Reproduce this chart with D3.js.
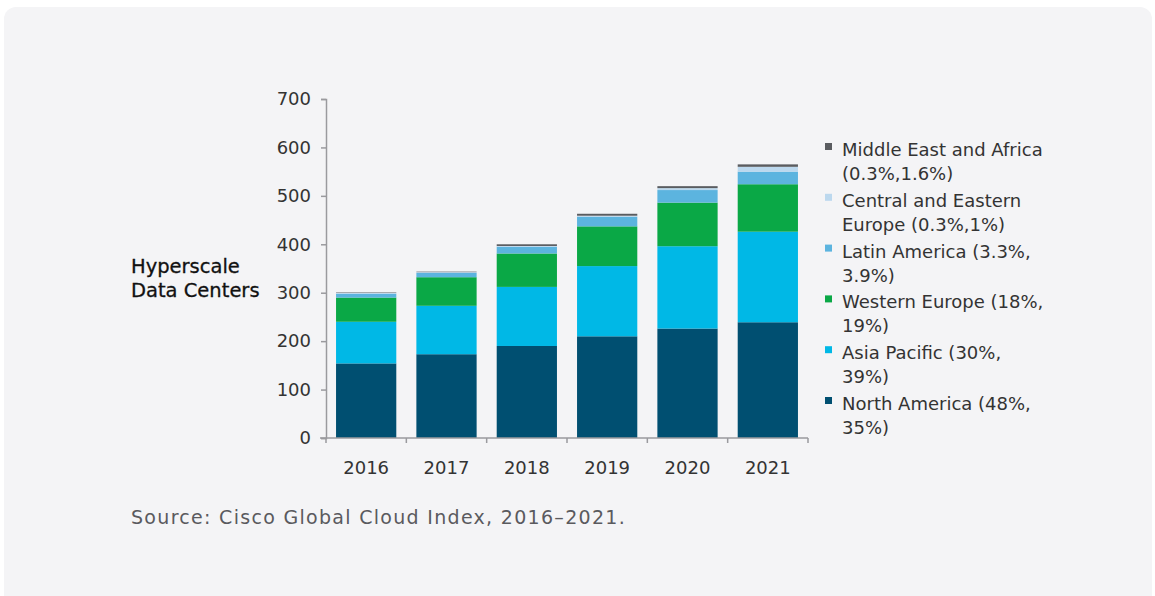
<!DOCTYPE html>
<html>
<head>
<meta charset="utf-8">
<script src="https://cdn.jsdelivr.net/npm/d3@7"></script>
<style>
  body { margin: 0; background: #ffffff; }
  svg { display: block; font-family: "DejaVu Sans", sans-serif; }
</style>
</head>
<body>
<script>
// data
var years = ["2016", "2017", "2018", "2019", "2020", "2021"];
var northAmerica = [154, 173, 190, 210, 226, 239];
var asiaPacific = [86, 100, 122, 145, 170, 187];
var westernEurope = [50, 59, 69, 82, 90, 98];
var latinAmerica = [8, 9, 14, 20, 26, 26];
var centralEastEurope = [1.5, 1.5, 1.5, 2, 4, 10];
var middleEastAfrica = [1, 1, 3.5, 4, 4, 5];
var yTicks = [0, 100, 200, 300, 400, 500, 600, 700];

var seriesNames = ["North America", "Asia Pacific", "Western Europe", "Latin America",
                   "Central and Eastern Europe", "Middle East and Africa"];
var seriesValues = [northAmerica, asiaPacific, westernEurope, latinAmerica, centralEastEurope, middleEastAfrica];
var seriesColors = ["#004f71", "#00b8e6", "#0aa846", "#5cb4df", "#bcd8ee", "#5a5c60"];
// legend labels, top to bottom
var legendLines = [
  ["Middle East and Africa", "(0.3%,1.6%)"],
  ["Central and Eastern", "Europe (0.3%,1%)"],
  ["Latin America (3.3%,", "3.9%)"],
  ["Western Europe (18%,", "19%)"],
  ["Asia Pacific (30%,", "39%)"],
  ["North America (48%,", "35%)"]
];

var W = 1155, H = 596;
var svg = d3.select("body").append("svg").attr("width", W).attr("height", H);

// card background
svg.append("rect").attr("x", 4).attr("y", 7).attr("width", 1148).attr("height", 620)
   .attr("rx", 12).attr("fill", "#f4f4f6");

var x = d3.scaleBand().domain(years).range([326, 808]).paddingInner(0.25).paddingOuter(0.125);
var y = d3.scaleLinear().domain([0, 700]).range([438, 99]);

// build table for the stack
var table = years.map(function(yr, i) {
  var row = { year: yr };
  seriesNames.forEach(function(n, k) { row[n] = seriesValues[k][i]; });
  return row;
});
var stacked = d3.stack().keys(seriesNames)(table);

svg.append("g").selectAll("g").data(stacked).enter().append("g")
   .attr("fill", function(d, k) { return seriesColors[k]; })
   .selectAll("rect").data(function(d) { return d; }).enter().append("rect")
   .attr("x", function(d) { return x(d.data.year); })
   .attr("width", x.bandwidth())
   .attr("y", function(d) { return y(d[1]); })
   .attr("height", function(d) { return y(d[0]) - y(d[1]); });

// y axis
var yAxis = svg.append("g").attr("transform", "translate(326,0)")
   .call(d3.axisLeft(y).tickValues(yTicks).tickSize(5).tickPadding(10));
yAxis.select(".domain").attr("stroke", "#9a9a9e").attr("stroke-width", 1.5);
yAxis.selectAll(".tick line").attr("stroke", "#9a9a9e").attr("stroke-width", 1.5);
yAxis.selectAll("text").attr("font-size", 18).attr("fill", "#333").attr("font-family", "DejaVu Sans");

// x axis: ticks on band boundaries
var xg = svg.append("g");
xg.append("line").attr("x1", 320).attr("x2", 808).attr("y1", 438).attr("y2", 438)
  .attr("stroke", "#9a9a9e").attr("stroke-width", 1.5);
var bounds = years.map(function(yr) { return x(yr) - x.step() * x.paddingInner() / 2; });
bounds.push(808);
bounds[0] = 326;
xg.selectAll(".xt").data(bounds).enter().append("line")
  .attr("x1", function(d) { return d; }).attr("x2", function(d) { return d; })
  .attr("y1", 438).attr("y2", 443).attr("stroke", "#9a9a9e").attr("stroke-width", 1.5);
xg.selectAll(".xl").data(years).enter().append("text")
  .attr("x", function(d) { return x(d) + x.bandwidth() / 2; })
  .attr("y", 474).attr("text-anchor", "middle")
  .attr("font-size", 18).attr("fill", "#333").text(function(d) { return d; });

// axis title
var title = svg.append("text").attr("x", 131).attr("y", 273).attr("font-size", 19.5)
   .attr("fill", "#111").attr("stroke", "#111").attr("stroke-width", 0.3);
title.append("tspan").attr("x", 131).attr("dy", 0).text("Hyperscale");
title.append("tspan").attr("x", 131).attr("dy", 24).text("Data Centers");

// legend
var legendColors = seriesColors.slice().reverse();
var lg = svg.append("g").selectAll("g").data(legendLines).enter().append("g")
   .attr("transform", function(d, i) { return "translate(825," + (143 + i * 50.8) + ")"; });
lg.append("rect").attr("width", 7).attr("height", 7)
  .attr("fill", function(d, i) { return legendColors[i]; });
lg.append("text").attr("x", 17).attr("y", 13).attr("font-size", 18).attr("fill", "#333")
  .text(function(d) { return d[0]; });
lg.append("text").attr("x", 17).attr("y", 37).attr("font-size", 18).attr("fill", "#333")
  .text(function(d) { return d[1]; });

// source
svg.append("text").attr("x", 131).attr("y", 524).attr("font-size", 19).attr("fill", "#5a5a5e")
   .attr("letter-spacing", 1.3)
   .text("Source: Cisco Global Cloud Index, 2016\u20132021.");
</script>
</body>
</html>
